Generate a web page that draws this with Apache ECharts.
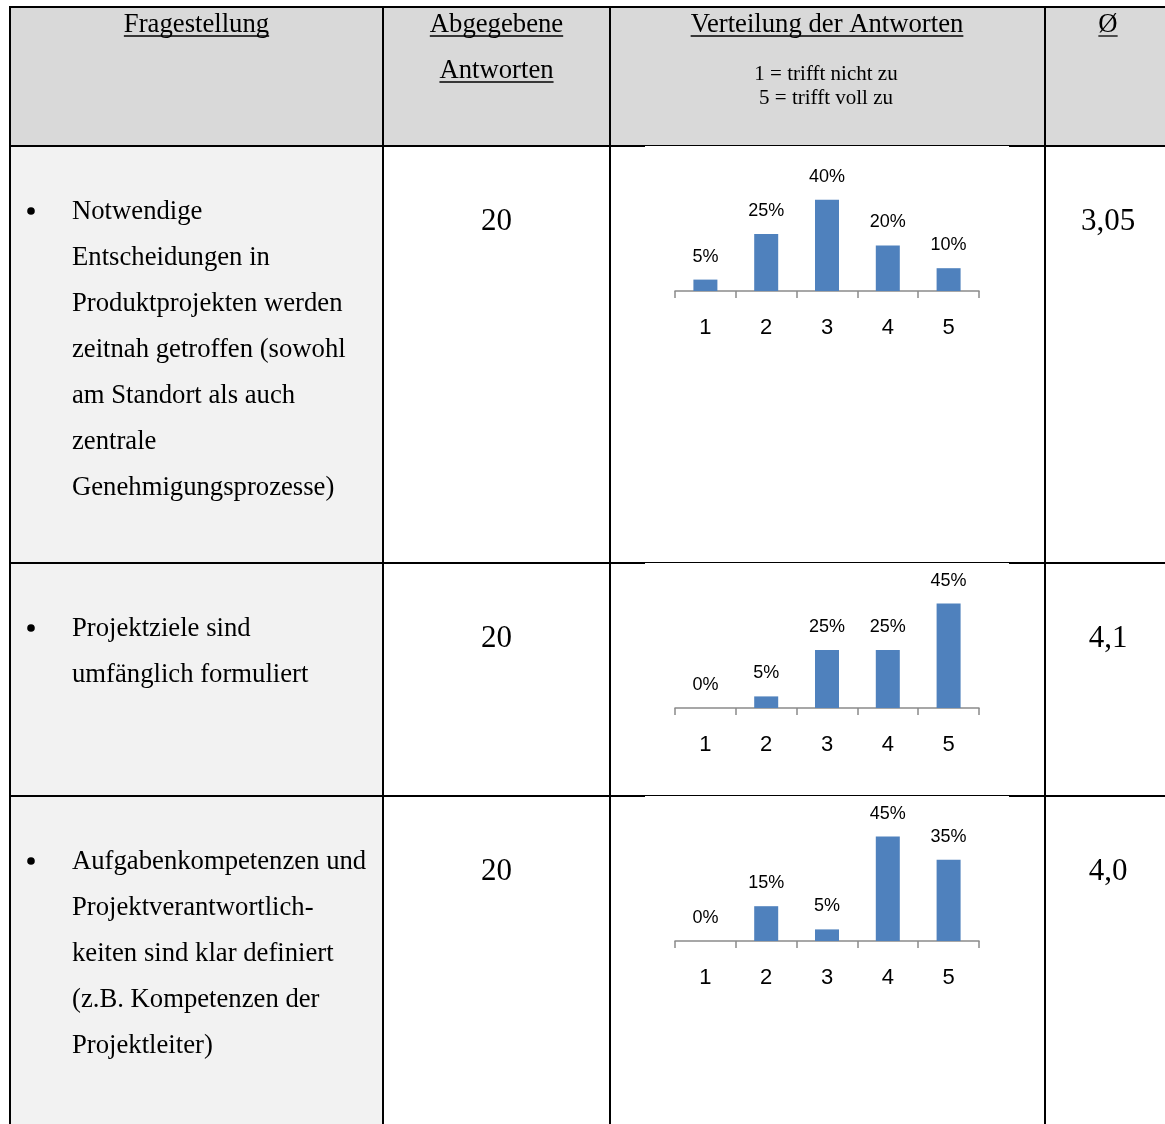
<!DOCTYPE html>
<html>
<head>
<meta charset="utf-8">
<script src="https://cdn.jsdelivr.net/npm/echarts@6/dist/echarts.min.js"></script>
<style>
  html, body { margin: 0; padding: 0; background: #fff; }
  #chart { width: 1165px; height: 1124px; }
</style>
</head>
<body>
<div id="chart"></div>
<script>
// --- data ---
const categories = ['1', '2', '3', '4', '5'];
const headers = ['Fragestellung', 'Abgegebene', 'Antworten', 'Verteilung der Antworten', 'Ø'];
const scaleNote = ['1 = trifft nicht zu', '5 = trifft voll zu'];
const questions = [
  ['Notwendige', 'Entscheidungen in', 'Produktprojekten werden', 'zeitnah getroffen (sowohl', 'am Standort als auch', 'zentrale', 'Genehmigungsprozesse)'],
  ['Projektziele sind', 'umfänglich formuliert'],
  ['Aufgabenkompetenzen und', 'Projektverantwortlich-', 'keiten sind klar definiert', '(z.B. Kompetenzen der', 'Projektleiter)']
];
const answerCounts = [20, 20, 20];
const averages = ['3,05', '4,1', '4,0'];
const dist1 = [5, 25, 40, 20, 10];
const dist2 = [0, 5, 25, 25, 45];
const dist3 = [0, 15, 5, 45, 35];
const distributions = [dist1, dist2, dist3];

// --- layout ---
const colX = [10, 383, 610, 1045];
const tableTop = 7;
const rowTops = [146, 563, 796];
const gridHeights = [114, 116, 116];
const serif = '"Liberation Serif", "Times New Roman", serif';
const sans = '"Liberation Sans", Arial, sans-serif';
const bodySize = 26.7;

const measure = document.createElement('canvas').getContext('2d');
function textWidth(t, size) {
  measure.font = size + 'px ' + serif;
  return measure.measureText(t).width;
}

const graphics = [];
function rect(x, y, w, h, fill, z) {
  graphics.push({ type: 'rect', z: z, silent: true, shape: { x: x, y: y, width: w, height: h }, style: { fill: fill } });
}
function line(x1, y1, x2, y2, w, z) {
  graphics.push({ type: 'line', z: z || 20, silent: true, shape: { x1: x1, y1: y1, x2: x2, y2: y2 }, style: { stroke: '#000', lineWidth: w } });
}
function text(t, x, y, size, align, underline) {
  graphics.push({
    type: 'text', z: 30, silent: true,
    style: { text: t, x: x, y: y, fontSize: size, fontFamily: serif, fill: '#000', align: align, verticalAlign: 'middle' }
  });
  if (underline) {
    const w = textWidth(t, size);
    const x0 = align === 'center' ? x - w / 2 : x;
    line(x0, y + 11, x0 + w, y + 11, 1.3, 30);
  }
}

// backgrounds
rect(colX[0], tableTop, 1165 - colX[0], rowTops[0] - tableTop, '#d9d9d9', 0);
rect(colX[0], rowTops[0], colX[1] - colX[0], 1124 - rowTops[0], '#f2f2f2', 0);

// grid lines of the table
line(colX[0], tableTop, 1165, tableTop, 2);
rowTops.forEach(function (y) {
  line(colX[0], y, 1165, y, 2);
  // chart picture sits over the lower half of the rule
  rect(645, y, 364, 1, '#fff', 21);
});
colX.forEach(function (x) { line(x, tableTop - 1, x, 1124, 2); });

// header texts
text(headers[0], 196.5, 25, bodySize, 'center', true);
text(headers[1], 496.5, 25, bodySize, 'center', true);
text(headers[2], 496.5, 71, bodySize, 'center', true);
text(headers[3], 827, 25, bodySize, 'center', true);
text(headers[4], 1108, 25, bodySize, 'center', true);
text(scaleNote[0], 826, 74, 21, 'center', false);
text(scaleNote[1], 826, 98, 21, 'center', false);

// body rows
rowTops.forEach(function (top, i) {
  graphics.push({ type: 'circle', z: 30, silent: true, shape: { cx: 31, cy: top + 65, r: 3.8 }, style: { fill: '#000' } });
  questions[i].forEach(function (l, j) {
    text(l, 72, top + 66 + j * 46, bodySize, 'left', false);
  });
  text(String(answerCounts[i]), 496.5, top + 76, 31, 'center', false);
  text(averages[i], 1108, top + 76, 31, 'center', false);
});

// one small bar chart per row
const grids = [], xAxes = [], yAxes = [], series = [];
distributions.forEach(function (values, i) {
  const axisY = rowTops[i] + 145;
  grids.push({ left: 675, width: 304, top: axisY - gridHeights[i], height: gridHeights[i] });
  xAxes.push({
    type: 'category', gridIndex: i, data: categories,
    axisLine: { lineStyle: { color: '#8a8a8a', width: 1.5 } },
    axisTick: { show: true, length: 7, lineStyle: { color: '#8a8a8a', width: 1.5 } },
    axisLabel: { margin: 26, color: '#000', fontSize: 22, fontFamily: sans },
    splitLine: { show: false }
  });
  yAxes.push({ type: 'value', gridIndex: i, min: 0, max: 50, show: false });
  series.push({
    type: 'bar', xAxisIndex: i, yAxisIndex: i, data: values, barWidth: 24,
    itemStyle: { color: '#4f81bd' },
    label: { show: true, position: 'top', distance: 14, formatter: '{c}%', color: '#000', fontSize: 18, fontFamily: sans },
    silent: true
  });
});

const chart = echarts.init(document.getElementById('chart'), null, { renderer: 'canvas' });
chart.setOption({
  animation: false,
  backgroundColor: '#fff',
  grid: grids,
  xAxis: xAxes,
  yAxis: yAxes,
  series: series,
  graphic: { elements: graphics }
});
</script>
</body>
</html>
